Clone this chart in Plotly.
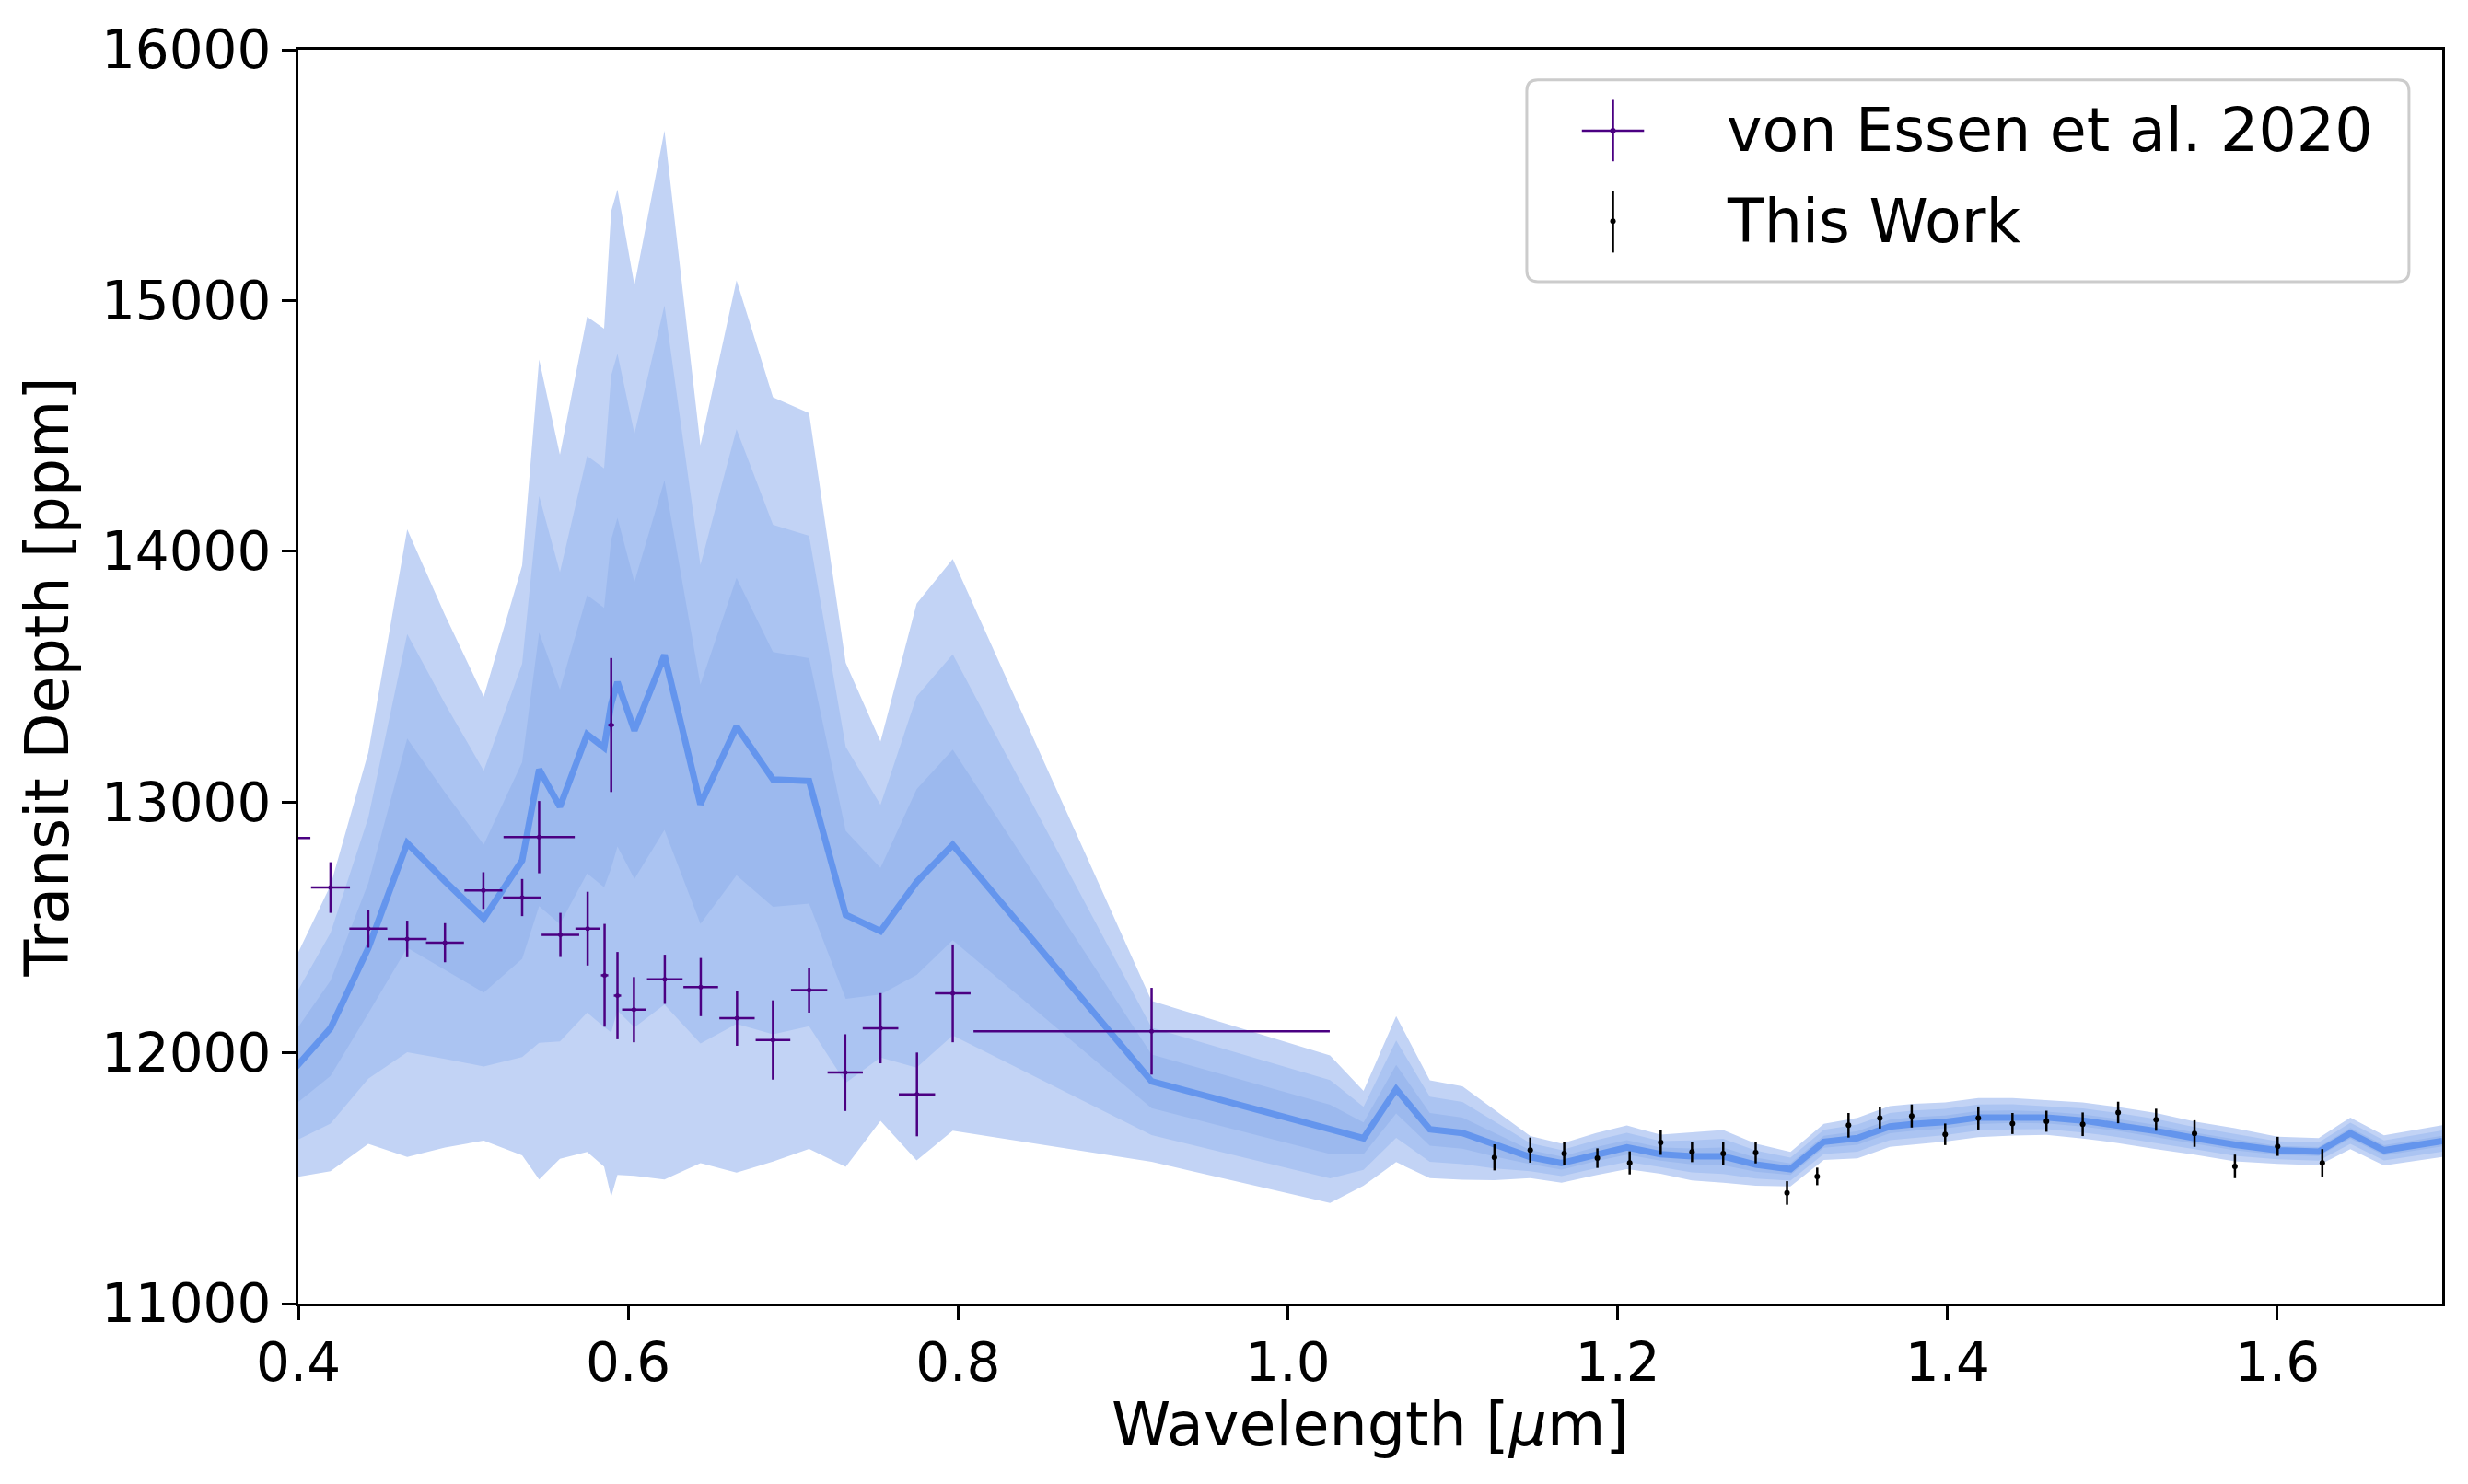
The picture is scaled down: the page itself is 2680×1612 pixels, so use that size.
import plotly.graph_objects as go

# model spectrum (median and 1-sigma width, ppm)
model_wl = [0.3955, 0.4195, 0.4424, 0.466, 0.4889, 0.5124, 0.5357, 0.546, 0.5586, 0.5751,
            0.5854, 0.5897, 0.5935, 0.6038, 0.622, 0.6438, 0.6657, 0.6878, 0.7097, 0.7319,
            0.753, 0.7749, 0.7968, 0.9174, 1.0256, 1.0459, 1.0657, 1.0861, 1.1059, 1.1253,
            1.147, 1.166, 1.1869, 1.2056, 1.226, 1.245, 1.264, 1.2837, 1.3048, 1.325,
            1.3454, 1.365, 1.3796, 1.3986, 1.4187, 1.4394, 1.46, 1.482, 1.5035, 1.5265,
            1.5498, 1.5743, 1.6002, 1.6251, 1.6443, 1.6647, 1.7]
model_med = [11920, 12098, 12417, 12836, 12684, 12535, 12767, 13130, 12981, 13270,
             13217, 13391, 13478, 13285, 13586, 12991, 13301, 13090, 13084, 12550,
             12485, 12681, 12829, 11886, 11695, 11659, 11855, 11695, 11680, 11633,
             11584, 11560, 11596, 11623, 11596, 11587, 11587, 11554, 11536, 11645,
             11660, 11706, 11716, 11724, 11742, 11745, 11742, 11730, 11712, 11688,
             11660, 11633, 11611, 11606, 11679, 11611, 11648]
model_sig = [140, 190, 260, 417, 354, 295, 392, 545, 468, 555,
             557, 655, 655, 592, 697, 477, 593, 508, 489, 335,
             252, 370, 380, 107, 98, 63, 97, 65, 62, 47,
             28, 26, 28, 29, 26, 32, 35, 28, 23, 24,
             27, 27, 27, 26, 26, 25, 23, 24, 24, 24,
             22, 22, 18, 18, 21, 20, 21]

# von Essen et al. 2020
ve_wl = [0.3955, 0.4195, 0.4424, 0.466, 0.4889, 0.5122, 0.5357, 0.546, 0.5589, 0.5754,
         0.5857, 0.5897, 0.5935, 0.6035, 0.6222, 0.644, 0.666, 0.6878, 0.7097, 0.7316,
         0.753, 0.7751, 0.7968, 0.9174]
ve_halfwidth = [0.0118, 0.0118, 0.0115, 0.0118, 0.0115, 0.0115, 0.0116, 0.0216, 0.0114, 0.0074,
                0.0022, 0.0018, 0.0022, 0.0072, 0.0108, 0.0105, 0.0107, 0.0105, 0.011, 0.0107,
                0.0108, 0.011, 0.0108, 0.108]
ve_depth = [12857, 12659, 12495, 12454, 12439, 12647, 12619, 12860, 12470, 12495,
            12309, 13307, 12228, 12172, 12293, 12262, 12138, 12051, 12250, 11921,
            12098, 11834, 12237, 12086]
ve_err = [100, 101, 76, 73, 78, 73, 74, 144, 88, 147,
          205, 267, 174, 130, 98, 116, 110, 158, 90, 153,
          140, 167, 195, 173]

# this work (WFC3)
tw_wl = [1.1253, 1.147, 1.1676, 1.1877, 1.2073, 1.2261, 1.2451, 1.264, 1.2837, 1.3027,
         1.321, 1.34, 1.359, 1.3783, 1.3986, 1.4187, 1.4394, 1.46, 1.482, 1.5035,
         1.5265, 1.5498, 1.5743, 1.6002, 1.6273]
tw_depth = [11583, 11612, 11598, 11580, 11561, 11642, 11605, 11598, 11602, 11441,
            11507, 11711, 11740, 11748, 11675, 11740, 11718, 11727, 11715, 11762,
            11733, 11678, 11547, 11627, 11561]
tw_err = [52, 50, 46, 39, 46, 49, 41, 45, 43, 47,
          35, 49, 42, 46, 43, 46, 42, 42, 47, 43,
          44, 53, 47, 38, 55]

FONT = "DejaVu Sans"
INDIGO = "#4B0082"
band_colors = {3: "rgb(194,211,245)", 2: "rgb(171,196,242)", 1: "rgb(156,185,238)"}

fig = go.Figure()

for k in (3, 2, 1):
    upper = [m + k * s for m, s in zip(model_med, model_sig)]
    lower = [m - k * s for m, s in zip(model_med, model_sig)]
    fig.add_trace(go.Scatter(
        x=model_wl + model_wl[::-1], y=upper + lower[::-1],
        fill="toself", fillcolor=band_colors[k], line=dict(width=0),
        mode="lines", hoverinfo="skip", showlegend=False))

fig.add_trace(go.Scatter(x=model_wl, y=model_med, mode="lines",
                         line=dict(color="#6495ED", width=7), showlegend=False))

fig.add_trace(go.Scatter(
    x=ve_wl, y=ve_depth, mode="markers", name="von Essen et al. 2020",
    marker=dict(color=INDIGO, size=5),
    error_x=dict(type="data", array=ve_halfwidth, color=INDIGO, thickness=2.5, width=0),
    error_y=dict(type="data", array=ve_err, color=INDIGO, thickness=2.5, width=0),
    showlegend=False))

fig.add_trace(go.Scatter(
    x=tw_wl, y=tw_depth, mode="markers", name="This Work",
    marker=dict(color="black", size=6),
    error_y=dict(type="data", array=tw_err, color="black", thickness=2.5, width=0),
    showlegend=False))

# hand-drawn legend box (rounded corners), matplotlib style
x0, x1, y0, y1 = 0.573, 0.9845, 0.815, 0.9759
rx, ry = 12 / 2328, 12 / 1368
box = (f"M {x0+rx},{y0} L {x1-rx},{y0} Q {x1},{y0} {x1},{y0+ry} "
       f"L {x1},{y1-ry} Q {x1},{y1} {x1-rx},{y1} L {x0+rx},{y1} "
       f"Q {x0},{y1} {x0},{y1-ry} L {x0},{y0+ry} Q {x0},{y0} {x0+rx},{y0} Z")
shapes = [dict(type="path", path=box, xref="paper", yref="paper",
               fillcolor="rgba(255,255,255,0.8)", line=dict(color="#cccccc", width=3))]
gx, gx0, gx1 = 0.6132, 0.5987, 0.6277
row1, row2 = 0.9354, 0.8633
dx, dy = 3 / 2328, 3 / 1368
shapes += [
    dict(type="line", xref="paper", yref="paper", x0=gx0, x1=gx1, y0=row1, y1=row1,
         line=dict(color=INDIGO, width=2.5)),
    dict(type="line", xref="paper", yref="paper", x0=gx, x1=gx, y0=0.9110, y1=0.9600,
         line=dict(color=INDIGO, width=2.5)),
    dict(type="circle", xref="paper", yref="paper", x0=gx - dx, x1=gx + dx,
         y0=row1 - dy, y1=row1 + dy, fillcolor=INDIGO, line=dict(width=0)),
    dict(type="line", xref="paper", yref="paper", x0=gx, x1=gx, y0=0.8382, y1=0.8874,
         line=dict(color="black", width=2.5)),
    dict(type="circle", xref="paper", yref="paper", x0=gx - dx, x1=gx + dx,
         y0=row2 - dy, y1=row2 + dy, fillcolor="black", line=dict(width=0)),
]
annotations = [
    dict(text="von Essen et al. 2020", x=0.6654, y=row1, xref="paper", yref="paper",
         xanchor="left", yanchor="middle", showarrow=False, font=dict(size=65, color="black")),
    dict(text="This Work", x=0.6654, y=row2, xref="paper", yref="paper",
         xanchor="left", yanchor="middle", showarrow=False, font=dict(size=65, color="black")),
    # x-axis title placed as annotation for exact vertical placement
    dict(text="Wavelength [<i>μ</i>m]", x=0.5, y=-0.0968, xref="paper", yref="paper",
         xanchor="center", yanchor="middle", showarrow=False, font=dict(size=65, color="black")),
]

axis_common = dict(showline=True, mirror=True, linecolor="black", linewidth=3,
                   ticks="outside", ticklen=15, tickwidth=3, tickcolor="black",
                   showgrid=False, zeroline=False, tickfont=dict(size=58, color="black"))

# page body adds an 8px margin, so the figure is 16px smaller and margins shifted
fig.update_layout(
    width=2664, height=1596,
    margin=dict(l=316, r=20, t=44, b=188),
    paper_bgcolor="white", plot_bgcolor="white",
    font=dict(family=FONT, color="black"),
    shapes=shapes, annotations=annotations,
    xaxis=dict(range=[0.4, 1.7], tick0=0.4, dtick=0.2, tickformat=".1f",
               ticklabelstandoff=-4, **axis_common),
    yaxis=dict(range=[11000, 16000], dtick=1000, tickformat="d",
               title=dict(text="Transit Depth [ppm]", font=dict(size=65), standoff=15),
               **axis_common),
)

fig.write_html("out.html")
